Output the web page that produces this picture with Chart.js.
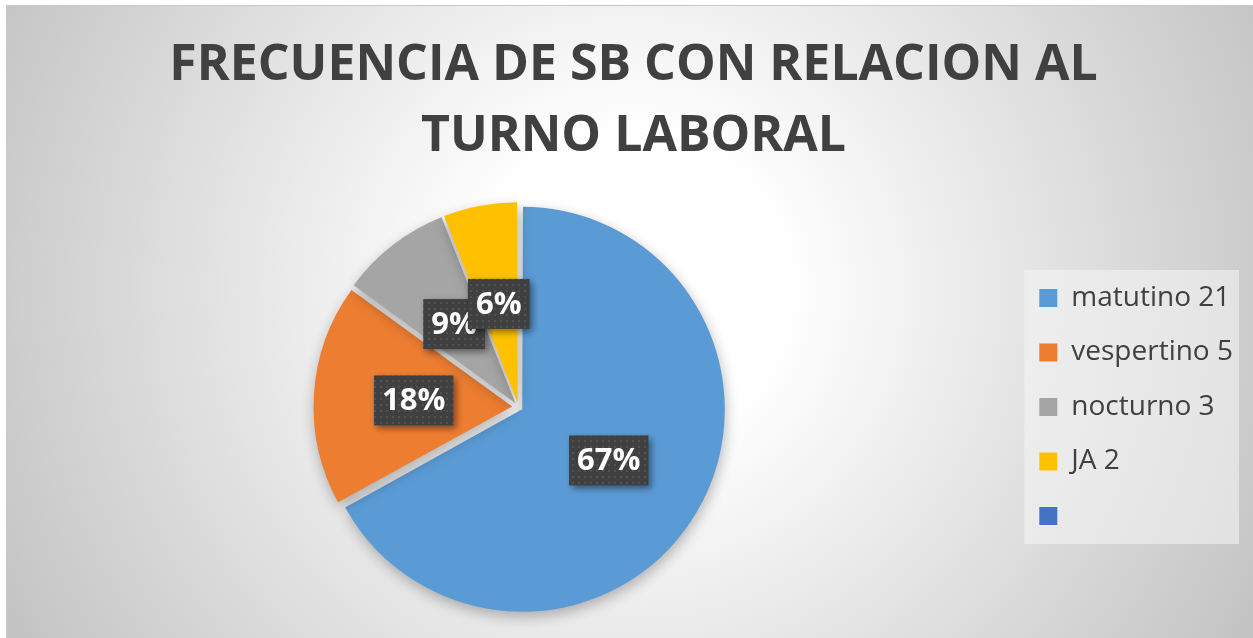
<!DOCTYPE html>
<html>
<head>
<meta charset="utf-8">
<script src="https://cdn.jsdelivr.net/npm/chart.js@4"></script>
<style>
    html, body { margin: 0; padding: 0; background: #ffffff; }
    #wrap { width: 1253px; height: 638px; position: relative; }
</style>
</head>
<body>
<div id="wrap"><canvas id="pieChart"></canvas></div>
<script>
// chart data
const titleLines = ['FRECUENCIA DE SB CON RELACION AL', 'TURNO LABORAL'];
const categories = ['matutino 21', 'vespertino 5', 'nocturno 3', 'JA 2', ''];
const values = [67, 18, 9, 6, 0];
const percentLabels = ['67%', '18%', '9%', '6%', ''];

const sliceColors = ['#5B9BD5', '#ED7D31', '#A5A5A5', '#FFC000', '#4472C4'];
const sliceOffsets = [18, 25, 19, 17, 0];
const textColor = '#404040';

// frame + radial background, legend panel
const backgroundPlugin = {
    id: 'background',
    beforeDraw(chart) {
        const ctx = chart.ctx;
        ctx.save();
        ctx.fillStyle = '#ffffff';
        ctx.fillRect(0, 0, chart.width, chart.height);
        const grad = ctx.createRadialGradient(630, 290, 0, 630, 290, 700);
        grad.addColorStop(0, '#ffffff');
        grad.addColorStop(0.22, '#ffffff');
        grad.addColorStop(1, '#c4c4c4');
        ctx.fillStyle = grad;
        ctx.fillRect(6, 5, chart.width - 6, chart.height - 5);
        ctx.strokeStyle = '#c8c8c8';
        ctx.lineWidth = 1;
        ctx.beginPath();
        ctx.moveTo(6.5, chart.height);
        ctx.lineTo(6.5, 5.5);
        ctx.lineTo(chart.width, 5.5);
        ctx.stroke();

        // legend panel
        const boxes = chart.legend && chart.legend.legendHitBoxes;
        if (boxes && boxes.length) {
            const first = boxes[0];
            const last = boxes[boxes.length - 1];
            const left = first.left - 15;
            const top = first.top - 14;
            const bottom = last.top + last.height + 14;
            ctx.fillStyle = 'rgba(245, 245, 245, 0.55)';
            ctx.fillRect(left, top, 1239 - left, bottom - top);
        }
        ctx.restore();
    }
};

// soft shadow under the slices
const shadowPlugin = {
    id: 'sliceShadow',
    beforeDatasetsDraw(chart) {
        const ctx = chart.ctx;
        ctx.save();
        ctx.shadowColor = 'rgba(0, 0, 0, 0.28)';
        ctx.shadowBlur = 14;
        ctx.shadowOffsetX = 1;
        ctx.shadowOffsetY = 5;
    },
    afterDatasetsDraw(chart) {
        chart.ctx.restore();
    }
};

// dark dotted boxes with percentages
function makeDotPattern(ctx) {
    const p = document.createElement('canvas');
    p.width = 6;
    p.height = 6;
    const pc = p.getContext('2d');
    pc.fillStyle = '#404040';
    pc.fillRect(0, 0, 6, 6);
    pc.fillStyle = '#515151';
    pc.fillRect(2, 2, 2, 2);
    return ctx.createPattern(p, 'repeat');
}

const labelPlugin = {
    id: 'percentLabels',
    afterDatasetsDraw(chart) {
        const ctx = chart.ctx;
        const meta = chart.getDatasetMeta(0);
        const pattern = makeDotPattern(ctx);
        ctx.save();
        ctx.font = 'bold 31px "Open Sans"';
        ctx.textAlign = 'center';
        ctx.textBaseline = 'middle';
        meta.data.forEach((arc, i) => {
            const text = percentLabels[i];
            if (!text) return;
            const {x, y, startAngle, endAngle, outerRadius} = arc.getProps(['x', 'y', 'startAngle', 'endAngle', 'outerRadius'], true);
            const mid = (startAngle + endAngle) / 2;
            const cx = x + Math.cos(mid) * outerRadius * 0.53;
            const cy = y + Math.sin(mid) * outerRadius * 0.53;
            const w = ctx.measureText(text).width + 16;
            const h = 50;

            ctx.save();
            ctx.shadowColor = 'rgba(0, 0, 0, 0.45)';
            ctx.shadowBlur = 7;
            ctx.shadowOffsetX = 3;
            ctx.shadowOffsetY = 3;
            ctx.fillStyle = pattern;
            ctx.fillRect(cx - w / 2, cy - h / 2, w, h);
            ctx.restore();

            ctx.fillStyle = '#ffffff';
            ctx.fillText(text, cx, cy + 1);
        });
        ctx.restore();
    }
};

const ctx = document.getElementById('pieChart').getContext('2d');
const chart = new Chart(ctx, {
    type: 'pie',
    data: {
        labels: categories,
        datasets: [{
            data: values,
            backgroundColor: sliceColors,
            borderWidth: 0,
            offset: sliceOffsets,
            radius: 198
        }]
    },
    options: {
        responsive: true,
        maintainAspectRatio: false,
        animation: false,
        events: [],
        layout: {
            padding: { left: 24, right: 10, top: 0, bottom: 8 }
        },
        plugins: {
            title: {
                display: true,
                text: titleLines,
                color: textColor,
                font: { family: '"Open Sans"', size: 50, weight: 'bold', lineHeight: 1.42 },
                padding: { top: 30, bottom: 12 }
            },
            legend: {
                position: 'right',
                align: 'center',
                title: {
                    // empty title only pushes the items down
                    display: true,
                    text: ' ',
                    font: { size: 12, lineHeight: 1.2 },
                    padding: { top: 169.6, bottom: 0 }
                },
                labels: {
                    color: textColor,
                    font: { family: '"Open Sans"', size: 28 },
                    boxWidth: 18,
                    boxHeight: 18,
                    padding: 26.5
                }
            },
            tooltip: { enabled: false }
        }
    },
    plugins: [backgroundPlugin, shadowPlugin, labelPlugin]
});
</script>
</body>
</html>
